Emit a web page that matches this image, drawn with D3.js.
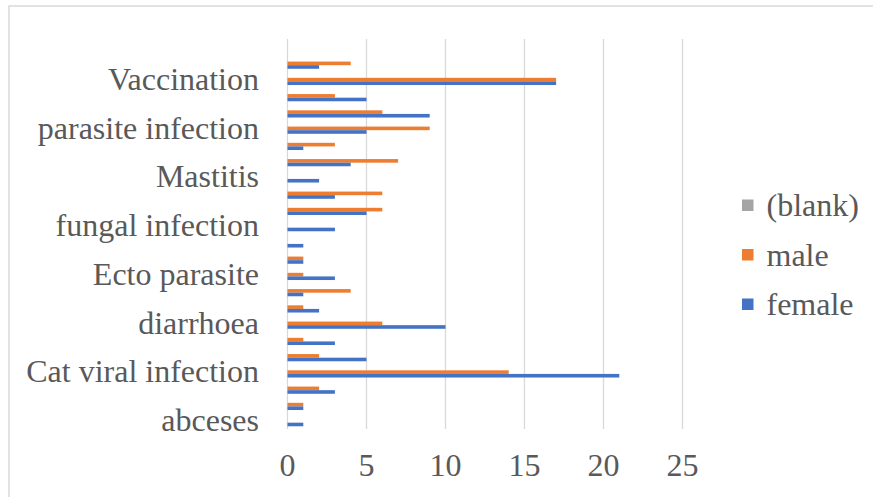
<!DOCTYPE html>
<html>
<head>
<meta charset="utf-8">
<script src="https://cdn.jsdelivr.net/npm/d3@7/dist/d3.min.js"></script>
<style>
  html, body { margin: 0; padding: 0; background: #fff; }
  svg { display: block; }
  svg text { font-family: "Liberation Serif", "Times New Roman", serif; }
</style>
</head>
<body>
<svg id="chart" width="873" height="497"></svg>
<script>
// Treatment counts per category, listed from the bottom row (index 0) upwards.
// Only every third category carries a visible axis label.
const categoryLabels = [
  "abceses", null, null,
  "Cat viral infection", null, null,
  "diarrhoea", null, null,
  "Ecto parasite", null, null,
  "fungal infection", null, null,
  "Mastitis", null, null,
  "parasite infection", null, null,
  "Vaccination", null, null
];
const femaleValues = [1, 1, 3, 21, 5, 3, 10, 2, 1, 3, 1, 1, 3, 5, 3, 2, 4, 1, 5, 9, 5, 17, 2, 0];
const maleValues   = [0, 1, 2, 14, 2, 1, 6, 1, 4, 1, 1, 0, 0, 6, 6, 0, 7, 3, 9, 6, 3, 17, 4, 0];
const blankValues  = [0, 0, 0, 0, 0, 0, 0, 0, 0, 0, 0, 0, 0, 0, 0, 0, 0, 0, 0, 0, 0, 0, 0, 0];
const xTicks = [0, 5, 10, 15, 20, 25];

const seriesNames = ["(blank)", "male", "female"];   // top-to-bottom within a group
const seriesColors = { "(blank)": "#A5A5A5", "male": "#ED7D31", "female": "#4472C4" };
const seriesData = { "(blank)": blankValues, "male": maleValues, "female": femaleValues };

const fontFamily = "'Liberation Serif', 'Times New Roman', serif";
const fontSize = 32;
const textColor = "#595959";
const gridColor = "#D9D9D9";

const svg = d3.select("#chart");

// chart frame
svg.append("rect")
  .attr("x", 9).attr("y", 6)
  .attr("width", 880).attr("height", 500)
  .attr("fill", "#fff")
  .attr("stroke", gridColor)
  .attr("stroke-width", 1.5);

const plot = { left: 287, right: 682, top: 39, bottom: 429 };

const x = d3.scaleLinear().domain([0, 25]).range([plot.left, plot.right]);

const indices = d3.range(categoryLabels.length);
const y = d3.scaleBand()
  .domain(indices.slice().reverse())
  .range([plot.top, plot.bottom])
  .padding(0);

const barH = 3.6;
const inner = d3.scaleBand()
  .domain(seriesNames)
  .range([0, y.bandwidth()])
  .paddingInner(0)
  .paddingOuter((y.bandwidth() / barH - 3) / 2);

// vertical gridlines
const gridAxis = d3.axisBottom(x)
  .tickValues(xTicks)
  .tickSize(-(plot.bottom - plot.top))
  .tickFormat("");
const grid = svg.append("g")
  .attr("transform", `translate(0,${plot.bottom})`)
  .call(gridAxis);
grid.select(".domain").remove();
grid.selectAll(".tick line")
  .attr("stroke", gridColor)
  .attr("stroke-width", 1.3);

// bars
const rows = indices.map(i => ({ i, values: seriesNames.map(s => ({ s, v: seriesData[s][i] })) }));
svg.append("g")
  .selectAll("g")
  .data(rows)
  .join("g")
  .attr("transform", d => `translate(0,${y(d.i)})`)
  .selectAll("rect")
  .data(d => d.values.filter(e => e.v > 0))
  .join("rect")
  .attr("x", x(0) + 0.5)
  .attr("y", e => inner(e.s))
  .attr("width", e => x(e.v) - x(0))
  .attr("height", inner.bandwidth())
  .attr("fill", e => seriesColors[e.s]);

// x axis labels
const xAxis = svg.append("g")
  .attr("transform", `translate(0,${plot.bottom})`)
  .call(d3.axisBottom(x).tickValues(xTicks).tickSize(0).tickPadding(24));
xAxis.select(".domain").remove();
xAxis.attr("font-family", null).attr("font-size", null);
xAxis.selectAll("text")
  .style("font-family", fontFamily)
  .style("font-size", fontSize + "px")
  .attr("fill", textColor);

// category labels
const yAxis = svg.append("g")
  .attr("transform", `translate(${plot.left},0)`)
  .call(d3.axisLeft(y).tickSize(0).tickPadding(28)
    .tickFormat(i => categoryLabels[i] || ""));
yAxis.select(".domain").remove();
yAxis.attr("font-family", null).attr("font-size", null);
yAxis.selectAll(".tick").filter(i => !categoryLabels[i]).remove();
yAxis.selectAll("text")
  .style("font-family", fontFamily)
  .style("font-size", fontSize + "px")
  .attr("fill", textColor);

// legend
const legendY = d3.scalePoint().domain(seriesNames).range([205, 304]);
const legend = svg.append("g")
  .selectAll("g")
  .data(seriesNames)
  .join("g")
  .attr("transform", s => `translate(742,${legendY(s)})`);
legend.append("rect")
  .attr("x", 0).attr("y", -5.5)
  .attr("width", 11.5).attr("height", 11.5)
  .attr("fill", s => seriesColors[s]);
legend.append("text")
  .attr("x", 24.5)
  .attr("dy", "0.35em")
  .style("font-family", fontFamily)
  .style("font-size", fontSize + "px")
  .attr("fill", textColor)
  .text(s => s);
</script>
</body>
</html>
